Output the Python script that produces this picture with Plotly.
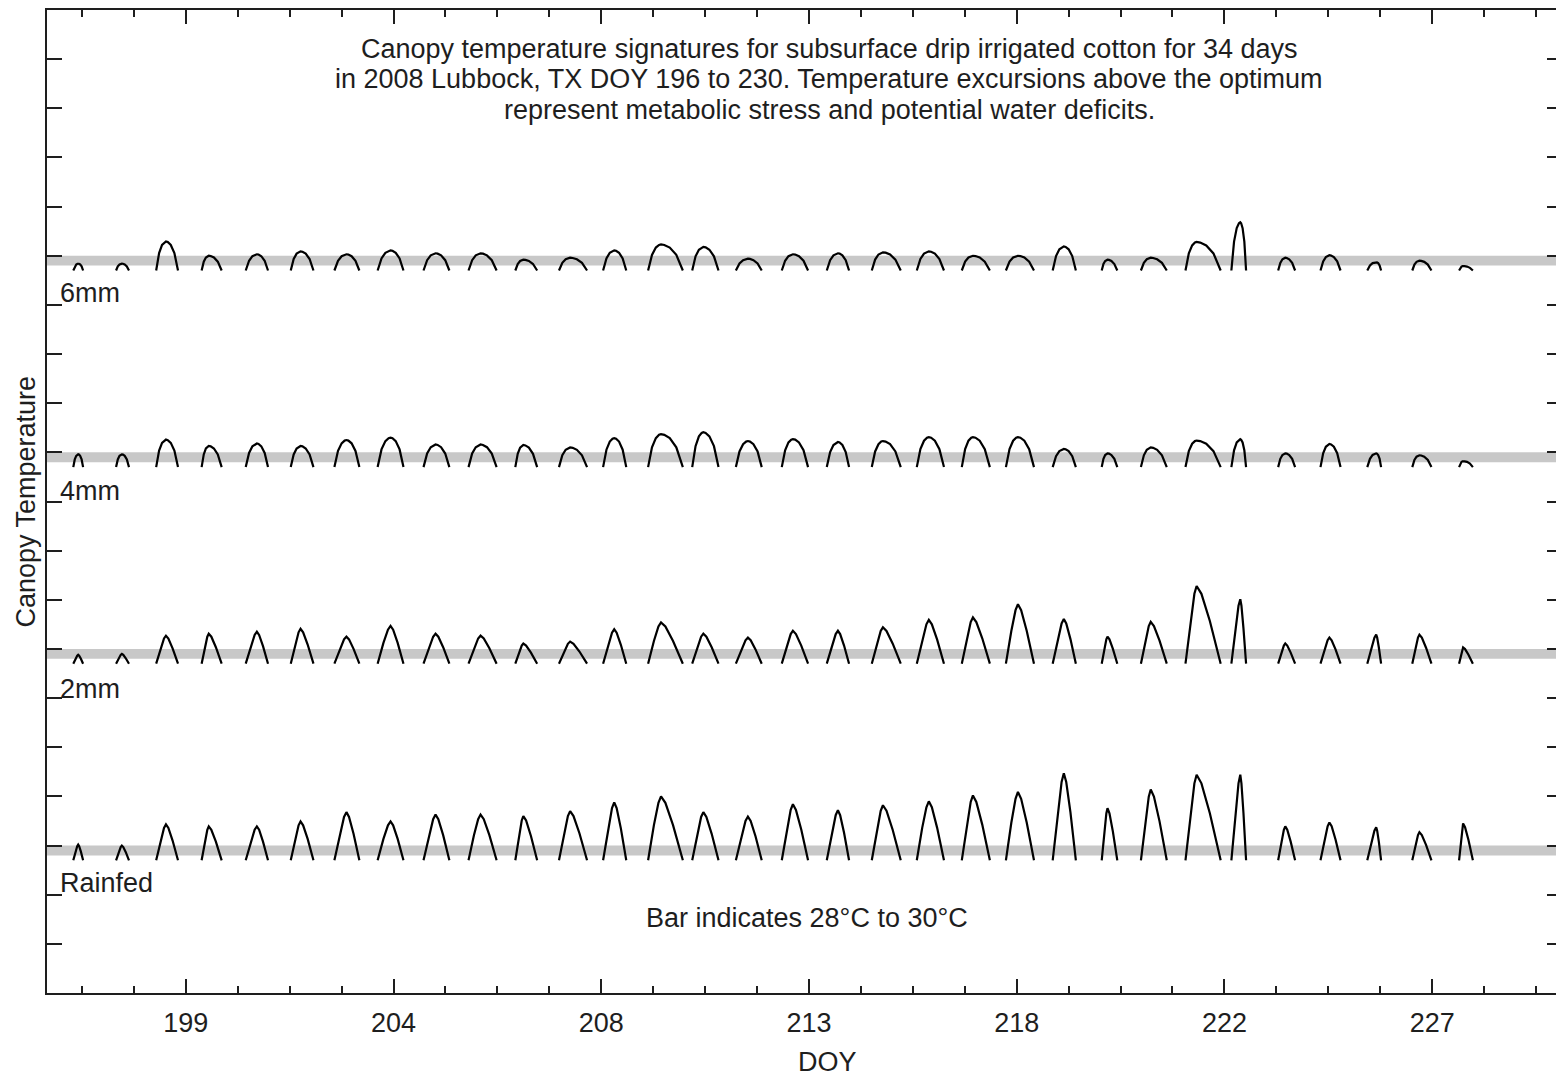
import plotly.graph_objects as go

# ---------------- data ----------------
# time (DOY, decimal) of each daily temperature maximum, shared by the four treatments
DAY_PEAK = [196.70, 197.68, 198.67, 199.63, 200.71, 201.69, 202.72, 203.71,
            204.72, 205.73, 206.69, 207.74, 208.73, 209.78, 210.73, 211.73,
            212.74, 213.75, 214.76, 215.79, 216.78, 217.79, 218.82, 219.80,
            220.77, 221.80, 222.78, 223.79, 224.78, 225.83, 226.80, 227.78]
# duration (days) from the morning crossing of ~27 C to the maximum, and from maximum to evening crossing
RISE = [0.11, 0.13, 0.22, 0.16, 0.25, 0.22, 0.27, 0.29, 0.27, 0.27, 0.18, 0.25,
        0.25, 0.29, 0.25, 0.27, 0.25, 0.25, 0.25, 0.27, 0.25, 0.27, 0.25, 0.13,
        0.22, 0.25, 0.20, 0.16, 0.20, 0.20, 0.16, 0.09]
FALL = [0.11, 0.16, 0.27, 0.29, 0.25, 0.29, 0.29, 0.29, 0.31, 0.36, 0.31, 0.38,
        0.27, 0.49, 0.34, 0.31, 0.34, 0.25, 0.40, 0.34, 0.38, 0.36, 0.27, 0.22,
        0.36, 0.54, 0.13, 0.22, 0.25, 0.11, 0.27, 0.22]

# daily maximum canopy temperature (C)
PEAK_RAINFED = [30.2, 30.0, 34.3, 33.9, 33.9, 34.9, 36.8, 34.9, 36.3, 36.3, 36.0, 37.0,
                38.8, 40.0, 36.8, 35.9, 38.4, 37.2, 38.2, 39.0, 40.2, 40.9, 44.7, 37.6,
                41.4, 44.4, 44.4, 33.9, 34.7, 33.7, 32.7, 34.5]
PEAK_2MM = [28.8, 29.0, 32.7, 33.1, 33.5, 34.1, 32.5, 34.7, 33.1, 32.7, 31.1, 31.5,
            34.0, 35.4, 33.1, 32.3, 33.7, 33.7, 34.4, 35.9, 36.4, 39.1, 36.1, 32.5,
            35.5, 42.8, 40.1, 31.1, 32.3, 32.9, 32.9, 30.3]
PEAK_4MM = [29.6, 29.6, 32.6, 31.3, 31.8, 31.3, 32.5, 33.0, 31.6, 31.6, 31.5, 31.0,
            32.9, 33.7, 34.1, 32.3, 32.7, 32.1, 32.3, 33.1, 33.1, 33.1, 30.7, 29.8,
            31.0, 32.4, 32.7, 29.8, 31.7, 29.8, 29.4, 28.2]
PEAK_6MM = [28.4, 28.4, 32.9, 30.0, 30.3, 30.9, 30.3, 31.1, 30.5, 30.5, 29.2, 29.6,
            31.1, 32.3, 31.8, 29.4, 30.3, 30.5, 30.7, 30.9, 30.0, 30.0, 31.9, 29.2,
            29.6, 32.8, 36.8, 29.6, 30.1, 28.7, 29.0, 27.9]

SERIES_NAMES = ["Rainfed", "2mm", "4mm", "6mm"]
SERIES_PEAKS = [PEAK_RAINFED, PEAK_2MM, PEAK_4MM, PEAK_6MM]
SERIES_OFFSET = [0, 40, 80, 120]          # vertical stacking offset (C)
BASE_TEMP = 27.0                           # level where each daytime trace begins/ends
BAND_LOW, BAND_HIGH = 28, 30               # optimum band

# shape of one side of a daily hump (fraction of side duration, fraction of amplitude)
SIDE_T_PEAKED = [0.0, 0.45, 0.8, 1.0]
SIDE_H_PEAKED = [0.0, 0.55, 0.9, 1.0]
SIDE_T_ROUND = [0.0, 0.3, 0.6, 0.85, 1.0]
SIDE_H_ROUND = [0.0, 0.6, 0.88, 0.98, 1.0]
SERIES_SHAPE = ["peaked", "peaked", "round", "round"]

X_TICK_VALS = [199.115, 203.777, 208.439, 213.101, 217.763, 222.424, 227.086]
X_TICK_TEXT = ["199", "204", "208", "213", "218", "222", "227"]
X_MINOR_START, X_MINOR_STEP = 196.784, 1.1654

TITLE_LINES = ["Canopy temperature signatures for subsurface drip irrigated cotton for 34 days",
               "in 2008 Lubbock, TX DOY 196 to 230. Temperature excursions above the optimum",
               "represent metabolic stress and potential water deficits."]
TITLE_Y = [192.1, 186.0, 179.7]
LABEL_Y = [22.3, 61.9, 102.1, 142.5]

FONT = "Liberation Sans, Arial, sans-serif"
INK = "#1e1e1e"
FS = 27

# ---------------- build figure ----------------
fig = go.Figure()

for name, peaks, off, shp in zip(SERIES_NAMES, SERIES_PEAKS, SERIES_OFFSET, SERIES_SHAPE):
    st, sh = (SIDE_T_PEAKED, SIDE_H_PEAKED) if shp == "peaked" else (SIDE_T_ROUND, SIDE_H_ROUND)
    xs, ys = [], []
    for tp, pk, r, f in zip(DAY_PEAK, peaks, RISE, FALL):
        amp = pk - BASE_TEMP
        for a, b in zip(st, sh):
            xs.append(tp - r * (1 - a))
            ys.append(BASE_TEMP + amp * b + off)
        for a, b in zip(reversed(st[:-1]), reversed(sh[:-1])):
            xs.append(tp + f * (1 - a))
            ys.append(BASE_TEMP + amp * b + off)
        xs.append(None)
        ys.append(None)
    fig.add_trace(go.Scatter(x=xs, y=ys, mode="lines", name=name,
                             line=dict(color="black", width=2.2),
                             connectgaps=False, showlegend=False, hoverinfo="skip"))

for off in SERIES_OFFSET:
    fig.add_shape(type="rect", xref="paper", x0=0, x1=1, yref="y",
                  y0=BAND_LOW + off, y1=BAND_HIGH + off,
                  fillcolor="#c8c8c8", line=dict(width=0), layer="below")

for name, ly in zip(SERIES_NAMES, LABEL_Y):
    fig.add_annotation(x=0.007, xref="paper", y=ly, yref="y", text=name,
                       showarrow=False, xanchor="left", yanchor="middle",
                       font=dict(family=FONT, size=FS, color=INK))

for line_text, yv in zip(TITLE_LINES, TITLE_Y):
    fig.add_annotation(x=213.55, xref="x", y=yv, yref="y", text=line_text,
                       showarrow=False, xanchor="center", yanchor="middle",
                       font=dict(family=FONT, size=FS, color=INK))

fig.add_annotation(x=213.06, xref="x", y=15.2, yref="y", text="Bar indicates 28°C to 30°C",
                   showarrow=False, xanchor="center", yanchor="middle",
                   font=dict(family=FONT, size=FS, color=INK))

fig.add_annotation(x=-0.0145, xref="paper", y=0.5, yref="paper", text="Canopy Temperature",
                   textangle=-90, showarrow=False, xanchor="center", yanchor="middle",
                   font=dict(family=FONT, size=FS, color=INK))
fig.add_annotation(x=0.515, xref="paper", y=-0.07, yref="paper", text="DOY",
                   showarrow=False, xanchor="center", yanchor="middle",
                   font=dict(family=FONT, size=FS, color=INK))

fig.update_xaxes(range=[196, 230], showline=True, linewidth=2, linecolor=INK, mirror="ticks",
                 ticks="inside", ticklen=14, tickwidth=2, tickcolor=INK,
                 tickmode="array", tickvals=X_TICK_VALS, ticktext=X_TICK_TEXT,
                 tickfont=dict(family=FONT, size=FS, color=INK),
                 minor=dict(ticks="inside", ticklen=7, tickwidth=2, tickcolor=INK,
                            tick0=X_MINOR_START, dtick=X_MINOR_STEP, showgrid=False),
                 showgrid=False, zeroline=False, ticklabelstandoff=5)
fig.update_yaxes(range=[0, 200], showline=True, linewidth=2, linecolor=INK, mirror="ticks",
                 ticks="inside", ticklen=15, tickwidth=2, tickcolor=INK,
                 tick0=0, dtick=10, showticklabels=False,
                 showgrid=False, zeroline=False)

# page body adds an 8 px margin, so the figure is 8 px smaller in each direction
fig.update_layout(width=1556, height=1069, plot_bgcolor="white", paper_bgcolor="white",
                  margin=dict(l=39, r=0, t=0, b=84), showlegend=False)

fig.write_html("out.html")
